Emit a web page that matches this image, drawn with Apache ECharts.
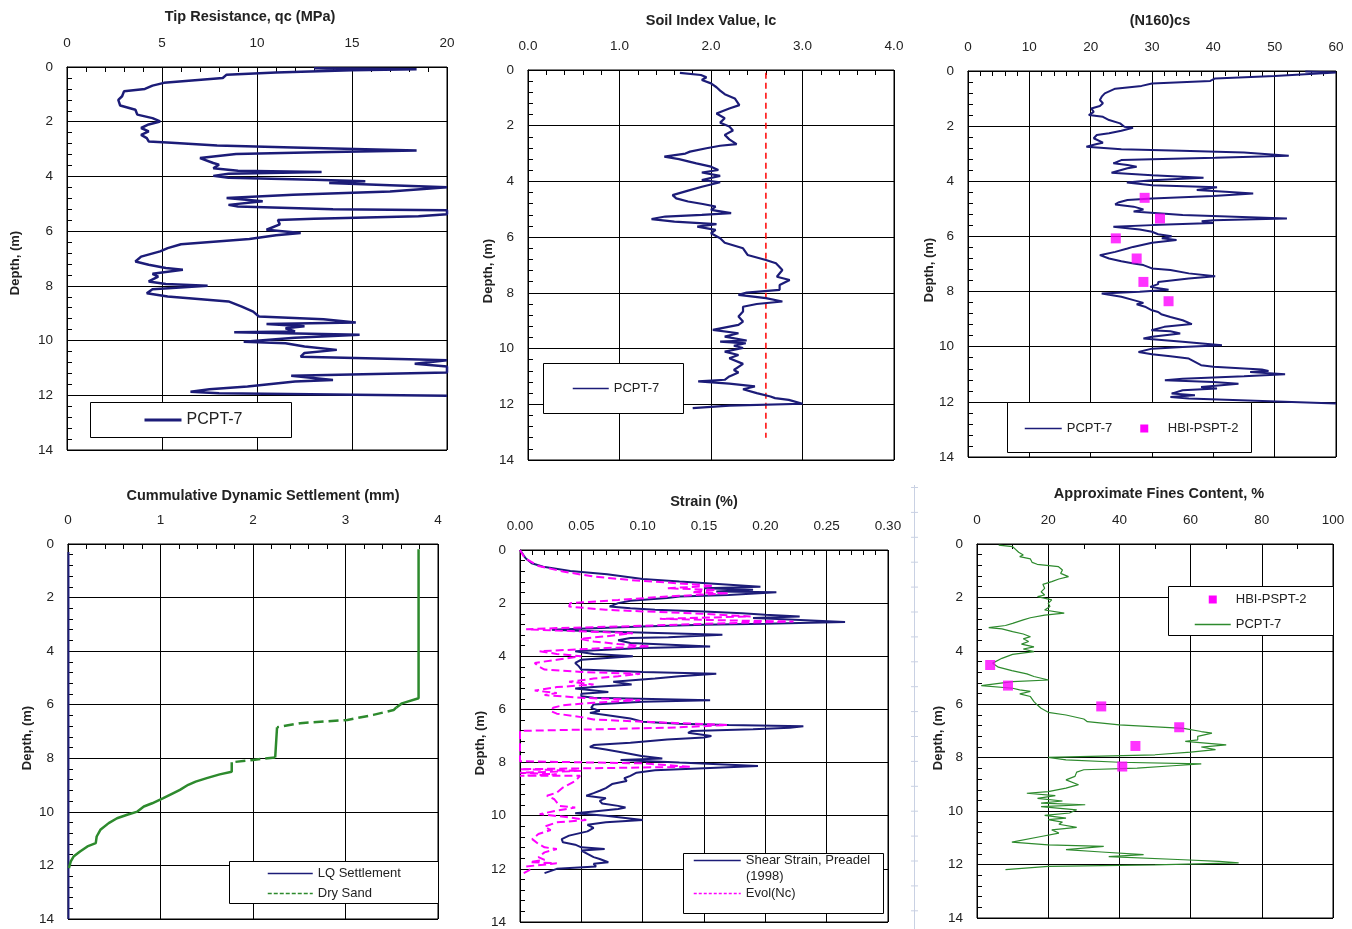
<!DOCTYPE html>
<html><head><meta charset="utf-8">
<script src="https://cdn.jsdelivr.net/npm/echarts@6/dist/echarts.min.js"></script>
<style>html,body{margin:0;padding:0;background:#fff}#c{width:1352px;height:929px}</style>
</head><body><div id="c"></div>
<script>
// ---------- DATA ----------
// Panel 1: Tip resistance qc (MPa) vs depth (m)
const qcDepth = [0.05,0.08,0.12,0.2,0.28,0.4,0.58,0.68,0.8,0.89,1.07,1.2,1.41,1.56,1.74,1.87,1.99,2.1,2.23,2.35,2.48,2.6,2.72,2.77,2.87,2.94,3.05,3.12,3.18,3.33,3.51,3.57,3.7,3.79,3.84,3.9,3.98,4.05,4.12,4.18,4.24,4.32,4.4,4.55,4.67,4.79,4.91,5.04,5.1,5.2,5.24,5.38,5.46,5.55,5.59,5.75,5.95,6.07,6.15,6.29,6.48,6.62,6.74,6.93,7.11,7.23,7.35,7.41,7.56,7.66,7.84,7.93,8.0,8.12,8.27,8.39,8.57,8.76,8.94,9.12,9.22,9.34,9.39,9.48,9.55,9.67,9.7,9.79,9.9,10.04,10.1,10.22,10.34,10.45,10.59,10.68,10.72,10.85,10.95,11.17,11.29,11.44,11.5,11.68,11.78,11.87,11.93,12.02];
const qcValue = [13.0,18.4,15.0,11.0,8.4,8.2,5.1,4.5,4.1,3.0,2.9,2.7,2.8,3.6,3.7,4.5,4.9,4.3,3.9,4.3,3.9,4.2,4.3,5.5,7.9,11.9,18.4,13.2,8.9,7.0,7.7,8.0,7.7,9.0,13.4,8.5,7.7,8.5,13.0,15.7,13.8,17.0,20.0,17.0,11.9,8.4,10.3,8.5,9.0,14.0,20.0,20.0,18.5,13.0,11.1,11.2,10.5,12.3,11.0,9.6,6.0,5.3,4.9,3.9,3.6,4.3,5.2,6.1,4.5,4.8,4.3,5.2,7.4,4.5,4.2,5.3,8.5,9.2,9.8,10.1,13.5,15.2,10.5,12.5,11.5,12.0,8.8,15.4,12.0,9.3,11.5,12.5,14.2,12.5,12.3,18.0,20.0,18.3,20.0,20.0,11.8,14.0,12.0,9.5,7.5,6.5,8.0,20.0];

// Panel 2: Soil index Ic
const icDepth = [0.1,0.18,0.26,0.36,0.48,0.62,0.74,0.87,1.02,1.26,1.38,1.56,1.73,1.89,2.03,2.17,2.33,2.49,2.66,2.72,2.81,2.93,3.0,3.11,3.2,3.35,3.47,3.59,3.68,3.8,3.95,4.03,4.19,4.33,4.49,4.61,4.72,4.81,4.9,5.02,5.14,5.2,5.26,5.35,5.44,5.53,5.62,5.74,5.86,6.04,6.2,6.4,6.64,6.82,6.94,7.18,7.42,7.54,7.72,7.89,7.99,8.07,8.19,8.31,8.4,8.5,8.67,8.85,9.03,9.15,9.33,9.45,9.57,9.71,9.75,9.81,9.9,9.98,10.11,10.23,10.35,10.55,10.77,10.86,11.0,11.12,11.18,11.26,11.36,11.46,11.6,11.72,11.78,11.84,11.98,12.05,12.14];
const icValue = [1.66,1.89,1.95,1.9,2.0,2.06,2.1,2.15,2.26,2.31,2.2,2.06,2.15,2.1,2.2,2.24,2.15,2.2,2.28,2.1,1.95,1.77,1.72,1.49,1.65,1.84,2.0,2.08,1.9,2.1,1.9,2.1,1.9,1.75,1.58,1.62,1.75,1.91,2.05,2.0,2.22,1.9,1.5,1.35,1.6,2.06,1.85,2.05,2.0,2.1,2.15,2.35,2.4,2.6,2.71,2.78,2.72,2.86,2.75,2.75,2.39,2.3,2.6,2.78,2.5,2.35,2.35,2.3,2.35,2.3,2.02,2.3,2.15,2.39,2.1,2.38,2.25,2.35,2.15,2.3,2.2,2.35,2.25,2.3,2.2,2.15,1.86,2.2,2.48,2.35,2.5,2.65,2.7,2.85,3.0,2.2,1.8];
const icLimitDepth = [0.1, 13.2];
const icLimitValue = [2.6, 2.6];

// Panel 3: (N1)60cs
const nDepth = [0.02,0.05,0.1,0.18,0.27,0.36,0.45,0.54,0.64,0.81,0.93,1.05,1.17,1.27,1.36,1.48,1.6,1.66,1.78,1.9,2.02,2.06,2.17,2.26,2.32,2.44,2.6,2.65,2.75,2.84,2.89,2.96,3.07,3.15,3.2,3.23,3.35,3.41,3.47,3.53,3.69,3.78,3.87,3.96,4.04,4.14,4.22,4.32,4.38,4.44,4.53,4.62,4.68,4.77,4.84,4.92,5.02,5.1,5.22,5.35,5.41,5.45,5.51,5.59,5.65,5.75,5.83,5.92,5.99,6.07,6.13,6.23,6.38,6.44,6.56,6.68,6.8,6.9,6.98,7.04,7.16,7.22,7.34,7.44,7.53,7.65,7.73,7.83,7.93,8.01,8.07,8.19,8.31,8.41,8.46,8.56,8.68,8.74,8.82,8.92,9.04,9.18,9.28,9.4,9.44,9.52,9.64,9.7,9.82,9.95,10.01,10.07,10.19,10.27,10.35,10.43,10.55,10.67,10.73,10.83,10.88,10.92,11.0,11.07,11.16,11.22,11.28,11.34,11.46,11.52,11.58,11.7,11.76,11.82,11.88,12.06];
const nValue = [55,60,60,50,40.3,39.5,30,28.3,24,22.3,21.8,21.5,22,21.5,20.1,20.5,19.7,22,23,24.8,25.5,26.9,25,23,21,20.5,22,21,19.3,25,34.8,45,52.3,40.3,30,25,23.7,26,27.5,26,23.4,30,38.4,30,25.9,30,40.6,37.3,42,46.5,40,30,26,24.5,24,27,28.6,27,35,52,40,38.1,40,30,23.7,28,30,31,33.2,31.6,34,30,26.9,26,24,21.5,23,25,27,28.6,30,33,36,40.3,36,31,31,29.7,32.7,28,21.8,25,27,28.6,27.5,29,30,31,31.5,33,35,36.5,32,29.9,33,34.6,30,28.6,35,41.4,35,30,27.8,30,33,36,37,38,40,47.9,49,46,51.7,45,35,32.1,40,44.1,38,40.6,35,33.2,37,33,36,60];
const sptDepth = [4.6, 5.35, 6.07, 6.8, 7.65, 8.35];
const sptN = [28.8, 31.3, 24.1, 27.5, 28.6, 32.7];

// Panel 4: Cumulative dynamic settlement (mm)
const lqDepth = [0.3, 14];
const lqValue = [0.005, 0.005];
const dryDepth = [0.2, 5.76, 5.95, 6.1, null, 6.84, 7.97, null, 8.15, 8.5, 8.6, 8.74, 8.87, 8.99, 9.18, 9.3, 9.49, 9.68, 9.8, 9.99, 10.11, 10.24, 10.42, 10.67, 10.92, 11.17, 11.29, 11.48, 11.67, 11.85, 12.1];
const dryValue = [3.79, 3.79, 3.61, 3.55, null, 2.26, 2.24, null, 1.77, 1.77, 1.64, 1.5, 1.38, 1.3, 1.21, 1.14, 1.03, 0.91, 0.82, 0.75, 0.64, 0.53, 0.44, 0.35, 0.31, 0.3, 0.21, 0.13, 0.06, 0.03, 0.01];
const dryDashDepth = [6.1, 6.2, 6.38, 6.57, 6.69, 6.84, null, 7.97, 8.06, 8.15];
const dryDashValue = [3.55, 3.52, 3.3, 3.02, 2.51, 2.26, null, 2.24, 2.0, 1.77];

// Panel 5: Strain (%)
const shearDepth = [0.0,0.31,0.5,0.63,0.79,0.91,1.09,1.19,1.38,1.44,1.5,1.56,1.59,1.69,1.75,1.81,1.91,2.0,2.13,2.19,2.25,2.31,2.38,2.44,2.5,2.56,2.6,2.71,2.78,2.81,2.88,3.0,3.06,3.19,3.28,3.31,3.4,3.5,3.63,3.69,3.81,3.91,4.0,4.13,4.25,4.38,4.5,4.59,4.66,4.75,4.84,4.96,5.06,5.16,5.21,5.34,5.41,5.5,5.56,5.65,5.71,5.81,5.94,6.06,6.13,6.21,6.34,6.46,6.54,6.59,6.63,6.69,6.75,6.81,6.88,7.0,7.06,7.13,7.25,7.34,7.41,7.51,7.63,7.75,7.81,7.85,7.9,8.0,8.13,8.21,8.29,8.38,8.5,8.59,8.69,8.81,8.96,9.06,9.15,9.25,9.34,9.44,9.54,9.63,9.69,9.75,9.84,9.91,10.0,10.16,10.25,10.34,10.46,10.59,10.75,10.88,11.0,11.09,11.19,11.25,11.31,11.44,11.56,11.63,11.75,11.81,11.91,12.0,12.16];
const shearValue = [0.0,0.0046,0.0095,0.019,0.041,0.071,0.1,0.13,0.196,0.15,0.19,0.16,0.209,0.17,0.13,0.12,0.09,0.08,0.073,0.09,0.11,0.15,0.181,0.2,0.228,0.19,0.21,0.265,0.2,0.15,0.1,0.026,0.06,0.165,0.121,0.09,0.08,0.09,0.155,0.1,0.045,0.06,0.092,0.05,0.045,0.048,0.05,0.1,0.16,0.13,0.11,0.076,0.091,0.06,0.045,0.072,0.05,0.05,0.06,0.155,0.1,0.06,0.058,0.065,0.057,0.07,0.09,0.1,0.13,0.17,0.231,0.22,0.19,0.14,0.137,0.156,0.15,0.12,0.09,0.06,0.057,0.07,0.085,0.099,0.1,0.116,0.082,0.13,0.194,0.15,0.11,0.095,0.09,0.085,0.087,0.075,0.07,0.065,0.06,0.054,0.07,0.065,0.067,0.08,0.086,0.08,0.06,0.045,0.07,0.1,0.07,0.055,0.06,0.055,0.04,0.034,0.035,0.045,0.05,0.069,0.05,0.055,0.06,0.065,0.072,0.06,0.062,0.03,0.02];
const evolDepth = [0.0,0.31,0.6,0.81,1.0,1.13,1.25,1.35,1.44,1.5,1.59,1.63,1.75,1.88,2.0,2.13,2.25,2.31,2.38,2.5,2.59,2.65,2.69,2.78,2.88,2.94,2.98,3.03,3.13,3.25,3.34,3.44,3.54,3.63,3.69,3.81,3.91,4.0,4.13,4.25,4.38,4.5,4.59,4.66,4.75,4.84,4.96,5.06,5.16,5.29,5.38,5.46,5.56,5.65,5.75,5.84,5.94,6.06,6.16,6.29,6.38,6.46,6.59,6.69,6.81,7.95,8.03,8.16,8.25,8.31,8.38,8.44,8.5,8.5,8.69,8.94,9.13,9.25,9.38,9.5,9.63,9.69,9.81,9.94,10.06,10.16,10.25,10.41,10.54,10.69,10.88,11.06,11.19,11.25,11.38,11.56,11.66,11.75,11.79,11.91,12.04,12.16];
const evolValue = [0.0,0.004,0.015,0.035,0.06,0.09,0.128,0.158,0.12,0.16,0.14,0.17,0.12,0.08,0.041,0.04,0.07,0.1,0.14,0.188,0.114,0.17,0.223,0.15,0.08,0.03,0.005,0.03,0.092,0.07,0.049,0.06,0.08,0.106,0.07,0.016,0.03,0.05,0.03,0.012,0.015,0.02,0.05,0.098,0.08,0.06,0.04,0.06,0.03,0.012,0.03,0.02,0.05,0.098,0.06,0.035,0.027,0.025,0.03,0.05,0.06,0.1,0.169,0.12,0.0,0.0,0.1,0.139,0.0,0.05,0.0,0.03,0.0,0.049,0.045,0.035,0.03,0.022,0.028,0.03,0.032,0.045,0.03,0.016,0.04,0.054,0.03,0.02,0.025,0.015,0.01,0.015,0.02,0.03,0.02,0.015,0.02,0.008,0.03,0.005,0.008,0.003];

// Panel 6: Approximate fines content (%)
const finesDepth = [0.04,0.1,0.16,0.31,0.41,0.47,0.56,0.69,0.76,0.85,0.97,1.1,1.22,1.31,1.41,1.51,1.66,1.79,1.91,1.97,2.09,2.22,2.34,2.47,2.59,2.66,2.76,2.84,2.97,3.05,3.13,3.18,3.28,3.37,3.47,3.55,3.65,3.75,3.85,3.93,4.03,4.13,4.28,4.46,4.61,4.74,4.86,4.96,5.09,5.15,5.3,5.4,5.46,5.52,5.61,5.71,5.9,6.02,6.15,6.3,6.4,6.55,6.65,6.77,6.9,7.02,7.08,7.2,7.33,7.39,7.52,7.6,7.7,7.79,7.89,7.99,8.08,8.17,8.23,8.3,8.39,8.45,8.54,8.7,8.83,9.01,9.14,9.27,9.33,9.42,9.52,9.62,9.7,9.76,9.83,9.95,10.07,10.16,10.26,10.32,10.41,10.49,10.61,10.7,10.82,10.95,11.16,11.26,11.32,11.44,11.53,11.63,11.7,11.82,11.88,11.94,12.01,12.07,12.19];
const finesValue = [6.1,10,10.5,11.7,13,12,15,15.5,16.9,22.9,24,23.5,25.7,23,21,18.5,19,18,19,17,21,20,20.5,19,24.5,19,15,13,10,8,3.3,7,10,13,15,13,14.5,12.5,16,13,16,10,7,4.4,6,9.8,14,16,20.1,10,1.2,10,12,15,12,15,16,16.9,18,20,25,30,31,40,58,63,66,62,62,58.5,70,63,67,60,50,20,25,40,63,55,45,30,28,27.5,25,28.5,25,20,14,22,17,24,18,30.4,18,28,26,19,25,20,24,23,28,21,23,18,9.8,20,35.6,25,35,46.8,37,58,68,73.5,50,20,8];
const finesSptDepth = [4.53, 5.3, 6.08, 6.86, 7.56, 8.33];
const finesSptValue = [3.7, 8.7, 34.9, 56.8, 44.5, 40.8];

// Axis tick settings (min, max, interval)
const xTicks = [[0,20,5],[0,4,1],[0,60,10],[0,4,1],[0,0.3,0.05],[0,100,20]];
const depthTicks = [0, 14, 2];

const titles = ['Tip Resistance, qc (MPa)','Soil Index Value, Ic','(N160)cs','Cummulative Dynamic Settlement (mm)','Strain (%)','Approximate Fines Content, %'];
const LABELS = {
  qc:'PCPT-7', ic:'PCPT-7', n160:'PCPT-7', n160spt:'HBI-PSPT-2',
  lq:'LQ Settlement', drydash:'Dry Sand',
  shear:'Shear Strain, Preadel', evol:'Evol(Nc)',
  finesspt:'HBI-PSPT-2', fines:'PCPT-7'
};
const shearLabelLine2 = '(1998)';

// ---------- CHART ----------
const FONT = 'Liberation Sans, Arial, sans-serif';
const NAVY = '#1c1c78', GREEN = '#2d8a2d', MAG = '#ff00ff';
function pts(d, v){ return d.map((dd,i)=> (dd==null||v[i]==null) ? ['-','-'] : [v[i], dd]); }

const grids = [
  {left:67, top:67, width:380, height:383},
  {left:528, top:70, width:366, height:390},
  {left:968, top:71, width:368, height:386},
  {left:68, top:544, width:370, height:375},
  {left:520, top:550, width:368, height:373},
  {left:977, top:544, width:356, height:374}
];
const minorX = [5,5,5,5,5,2];
const fmtX = [null, v=>v.toFixed(1), null, null, v=>v.toFixed(2), null];

const xAxes = grids.map((g,i)=>({
  gridIndex:i, type:'value', position:'top',
  min:xTicks[i][0], max:xTicks[i][1], interval:xTicks[i][2],
  axisLine:{show:true, onZero:false, lineStyle:{color:'#000', width:1}},
  axisTick:{show:true, inside:true, length:5, lineStyle:{color:'#000'}},
  minorTick:{show:true, splitNumber:minorX[i], length:5, lineStyle:{color:'#000'}},
  axisLabel:{margin:17, fontSize:13.5, color:'#222', fontFamily:FONT, formatter: fmtX[i] || undefined},
  splitLine:{show:true, lineStyle:{color:'#000', width:1}}
}));
const yAxes = grids.map((g,i)=>({
  gridIndex:i, type:'value', inverse:true,
  min:depthTicks[0], max:depthTicks[1], interval:depthTicks[2],
  axisLine:{show:true, onZero:false, lineStyle:{color:'#000', width:1}},
  axisTick:{show:true, inside:true, length:5, lineStyle:{color:'#000'}},
  minorTick:{show:true, splitNumber:5, length:5, lineStyle:{color:'#000'}},
  axisLabel:{margin:14, fontSize:13.5, color:'#222', fontFamily:FONT},
  splitLine:{show:true, lineStyle:{color:'#000', width:1}}
}));

function line(name, idx, data, color, width, type){
  return {name, type:'line', xAxisIndex:idx, yAxisIndex:idx, data,
    symbol:'none', showSymbol:false, connectNulls:false, silent:true,
    lineStyle:{color, width, type: type||'solid'}, itemStyle:{color}};
}
function sq(name, idx, data){
  return {name, type:'scatter', xAxisIndex:idx, yAxisIndex:idx, data, symbol:'rect', symbolSize:10,
    silent:true, itemStyle:{color:MAG}, z:3};
}

const series = [
  line('qc',0,pts(qcDepth,qcValue),NAVY,2.5),
  line('iclimit',1,pts(icLimitDepth,icLimitValue),'#ff0000',1.5,[6,4]),
  line('ic',1,pts(icDepth,icValue),NAVY,2.2),
  line('n160',2,pts(nDepth,nValue),NAVY,2),
  sq('n160spt',2,pts(sptDepth,sptN)),
  line('lq',3,pts(lqDepth,lqValue),NAVY,2),
  line('drysolid',3,pts(dryDepth,dryValue),GREEN,2.5),
  line('drydash',3,pts(dryDashDepth,dryDashValue),GREEN,2.5,[10,5]),
  line('shear',4,pts(shearDepth,shearValue),NAVY,2),
  line('evol',4,pts(evolDepth,evolValue),MAG,2,[8,4]),
  line('fines',5,pts(finesDepth,finesValue),GREEN,1.2),
  sq('finesspt',5,pts(finesSptDepth,finesSptValue))
];

const SQ = 'path://M0,0H10V10H0Z';
const legTxt = (fs)=>({fontSize:fs, color:'#222', fontFamily:FONT});
const fmt = n => LABELS[n];
const legends = [
  {left:143, top:412, itemWidth:37, itemHeight:14, textStyle:legTxt(16), lineStyle:{width:3}, data:['qc']},
  {left:572, top:382, itemWidth:36, itemHeight:14, textStyle:legTxt(13), lineStyle:{width:1.5}, data:['ic']},
  {left:1024, top:422, itemWidth:37, itemHeight:8, itemGap:28, textStyle:legTxt(13), lineStyle:{width:1.5},
    data:['n160',{name:'n160spt', icon:SQ, itemStyle:{opacity:1}}]},
  {left:267, top:867, orient:'vertical', itemWidth:45, itemHeight:14, itemGap:7, textStyle:legTxt(13), lineStyle:{width:1.5},
    data:['lq',{name:'drydash', lineStyle:{width:1.5, type:[4,2]}}]},
  {left:693, top:854, orient:'vertical', itemWidth:47, itemHeight:14, itemGap:20, textStyle:legTxt(13), lineStyle:{width:1.5},
    data:['shear',{name:'evol', lineStyle:{width:1.5, type:[3,2]}}]},
  {left:1194, top:593, orient:'vertical', itemWidth:36, itemHeight:8, itemGap:12, textStyle:legTxt(13), lineStyle:{width:1.5},
    data:[{name:'finesspt', icon:SQ, itemStyle:{opacity:1}},'fines']}
].map(l=>Object.assign({padding:0, selectedMode:false, formatter:fmt, z:6, itemStyle:{opacity:0}}, l));

const boxes = [[90,402,201,35],[543,363,140,50],[1007,402,244,50],[229,861,209,42],[683,853,200,60],[1168,586,165,49]];
const titlePos = [[250,17],[711,21],[1160,21],[263,496],[704,502],[1159,494]];
const ynamePos = [[15,263],[488,271],[929,270],[27,738],[480,743],[938,738]];

const graphic = [];
boxes.forEach(b=>graphic.push({type:'rect', z:5, shape:{x:b[0]+0.5, y:b[1]+0.5, width:b[2], height:b[3]},
  style:{fill:'#fff', stroke:'#000', lineWidth:1}}));
titles.forEach((t,i)=>graphic.push({type:'text', z:5, x:titlePos[i][0], y:titlePos[i][1],
  style:{text:t, fill:'#222', font:'bold 14.5px '+FONT, textAlign:'center', textVerticalAlign:'middle'}}));
ynamePos.forEach(p=>graphic.push({type:'text', z:5, x:p[0], y:p[1], rotation:Math.PI/2,
  style:{text:'Depth, (m)', fill:'#222', font:'bold 13px '+FONT, textAlign:'center', textVerticalAlign:'middle'}}));
// second line of the strain legend label
graphic.push({type:'text', z:7, x:746, y:876,
  style:{text:shearLabelLine2, fill:'#222', font:'13px '+FONT, textAlign:'left', textVerticalAlign:'middle'}});
// faint decorative divider
graphic.push({type:'line', z:1, shape:{x1:914.5, y1:485, x2:914.5, y2:929}, style:{stroke:'#c9d1e3', lineWidth:1}});
for (let k=0;k<18;k++){
  const yy = 487.5 + k*24.9;
  graphic.push({type:'line', z:1, shape:{x1:911, y1:yy, x2:918, y2:yy}, style:{stroke:'#c9d1e3', lineWidth:1}});
}

const chart = echarts.init(document.getElementById('c'), null, {renderer:'canvas'});
chart.setOption({
  animation:false,
  backgroundColor:'#fff',
  textStyle:{fontFamily:FONT},
  grid: grids.map(g=>Object.assign({show:true, borderColor:'#000', borderWidth:1, backgroundColor:'transparent', containLabel:false}, g)),
  xAxis: xAxes, yAxis: yAxes,
  legend: legends,
  series: series,
  graphic: graphic
});
</script>
</body></html>
